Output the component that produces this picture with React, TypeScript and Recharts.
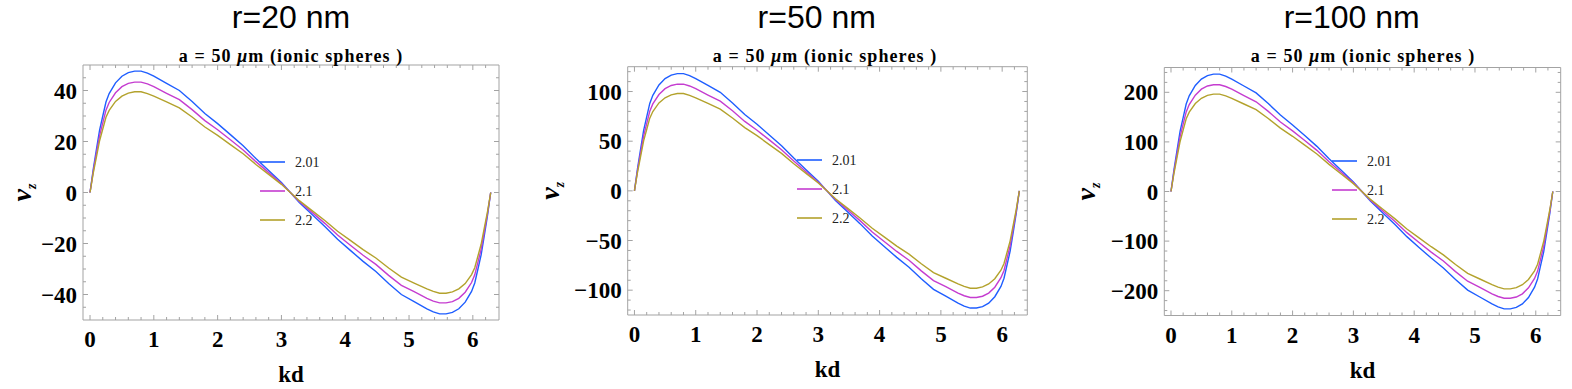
import React from 'react';
import { LineChart, Line, XAxis, YAxis, ReferenceArea, Legend } from 'recharts';

// ---------- data ----------
const KD = [0, 0.05, 0.1, 0.15, 0.2, 0.25, 0.3, 0.4, 0.5, 0.6, 0.7, 0.8, 0.9, 1.0, 1.2, 1.4, 1.6, 1.8, 2.0, 2.2, 2.4, 2.6, 2.8, 3.0, 3.14,
  3.28, 3.48, 3.68, 3.88, 4.08, 4.28, 4.48, 4.68, 4.88, 5.08, 5.28, 5.38, 5.48, 5.58, 5.68, 5.78, 5.88, 5.98, 6.03, 6.08, 6.13, 6.18, 6.23, 6.28];

const R20_S201 = [0, 9, 16.8, 24.5, 30, 35.5, 38.8, 43, 45.6, 47, 47.6, 47.6, 46.8, 45.6, 42.8, 40, 35.7, 31, 27, 22.7, 18.3, 13.3, 8.6, 3.9, 0,
  -3.9, -8.6, -13.3, -18.3, -22.7, -27, -31, -35.7, -40, -42.8, -45.6, -46.8, -47.6, -47.6, -47, -45.6, -43, -38.8, -35.5, -30, -24.5, -16.8, -9, 0];
const R20_S21 = [0, 8.2, 15.3, 22.3, 27.3, 32.3, 35.3, 39.1, 41.5, 42.8, 43.3, 43.3, 42.6, 41.5, 38.9, 36.4, 32.5, 28.2, 24.6, 20.7, 16.7, 12.1, 7.8, 3.5, 0,
  -3.5, -7.8, -12.1, -16.7, -20.7, -24.6, -28.2, -32.5, -36.4, -38.9, -41.5, -42.6, -43.3, -43.3, -42.8, -41.5, -39.1, -35.3, -32.3, -27.3, -22.3, -15.3, -8.2, 0];
const R20_S22 = [0, 7.5, 13.9, 20.3, 24.9, 29.5, 32.2, 35.7, 37.8, 39, 39.5, 39.5, 38.8, 37.8, 35.5, 33.2, 29.6, 25.7, 22.4, 18.8, 15.2, 11, 7.1, 3.2, 0,
  -3.2, -7.1, -11, -15.2, -18.8, -22.4, -25.7, -29.6, -33.2, -35.5, -37.8, -38.8, -39.5, -39.5, -39, -37.8, -35.7, -32.2, -29.5, -24.9, -20.3, -13.9, -7.5, 0];

const R50_S201 = [0, 22.3, 41.7, 60.8, 74.4, 88, 96.2, 106.6, 113.1, 116.6, 118, 118, 116.1, 113.1, 106.1, 99.2, 88.5, 76.9, 67, 56.3, 45.4, 33, 21.3, 9.7, 0,
  -9.7, -21.3, -33, -45.4, -56.3, -67, -76.9, -88.5, -99.2, -106.1, -113.1, -116.1, -118, -118, -116.6, -113.1, -106.6, -96.2, -88, -74.4, -60.8, -41.7, -22.3, 0];
const R50_S21 = [0, 20.3, 37.9, 55.3, 67.7, 80.1, 87.5, 97, 102.9, 106.1, 107.4, 107.4, 105.6, 102.9, 96.5, 90.3, 80.6, 69.9, 61, 51.3, 41.4, 30, 19.3, 8.7, 0,
  -8.7, -19.3, -30, -41.4, -51.3, -61, -69.9, -80.6, -90.3, -96.5, -102.9, -105.6, -107.4, -107.4, -106.1, -102.9, -97, -87.5, -80.1, -67.7, -55.3, -37.9, -20.3, 0];
const R50_S22 = [0, 18.6, 34.5, 50.3, 61.8, 73.2, 79.9, 88.5, 93.7, 96.7, 98, 98, 96.2, 93.7, 88, 82.3, 73.4, 63.7, 55.6, 46.6, 37.7, 27.3, 17.6, 7.9, 0,
  -7.9, -17.6, -27.3, -37.7, -46.6, -55.6, -63.7, -73.4, -82.3, -88, -93.7, -96.2, -98, -98, -96.7, -93.7, -88.5, -79.9, -73.2, -61.8, -50.3, -34.5, -18.6, 0];

const R100_S201 = [0, 44.7, 83.5, 121.8, 149.1, 176.4, 192.8, 213.7, 226.6, 233.6, 236.6, 236.6, 232.6, 226.6, 212.7, 198.8, 177.4, 154.1, 134.2, 112.8, 91, 66.1, 42.7, 19.4, 0,
  -19.4, -42.7, -66.1, -91, -112.8, -134.2, -154.1, -177.4, -198.8, -212.7, -226.6, -232.6, -236.6, -236.6, -233.6, -226.6, -213.7, -192.8, -176.4, -149.1, -121.8, -83.5, -44.7, 0];
const R100_S21 = [0, 40.8, 76, 110.8, 135.7, 160.5, 175.4, 194.3, 206.3, 212.7, 215.2, 215.2, 211.7, 206.3, 193.3, 180.9, 161.5, 140.2, 122.3, 102.9, 83, 60.1, 38.8, 17.4, 0,
  -17.4, -38.8, -60.1, -83, -102.9, -122.3, -140.2, -161.5, -180.9, -193.3, -206.3, -211.7, -215.2, -215.2, -212.7, -206.3, -194.3, -175.4, -160.5, -135.7, -110.8, -76, -40.8, 0];
const R100_S22 = [0, 37.3, 69.1, 100.9, 123.8, 146.6, 160, 177.4, 187.9, 193.8, 196.3, 196.3, 192.8, 187.9, 176.4, 165, 147.1, 127.7, 111.3, 93.4, 75.5, 54.7, 35.3, 15.9, 0,
  -15.9, -35.3, -54.7, -75.5, -93.4, -111.3, -127.7, -147.1, -165, -176.4, -187.9, -192.8, -196.3, -196.3, -193.8, -187.9, -177.4, -160, -146.6, -123.8, -100.9, -69.1, -37.3, 0];

const SERIES_NAMES = ['2.01', '2.1', '2.2'];
const TITLES = ['r=20 nm', 'r=50 nm', 'r=100 nm'];
const SUBTITLE_PRE = 'a = 50 ';
const SUBTITLE_MU = 'μ';
const SUBTITLE_POST = 'm (ionic spheres )';
const X_LABEL = 'kd';

const X_TICKS = [0, 0.2, 0.4, 0.6, 0.8, 1, 1.2, 1.4, 1.6, 1.8, 2, 2.2, 2.4, 2.6, 2.8, 3, 3.2, 3.4, 3.6, 3.8, 4, 4.2, 4.4, 4.6, 4.8, 5, 5.2, 5.4, 5.6, 5.8, 6, 6.2];
const Y_TICKS_20 = [-45, -40, -35, -30, -25, -20, -15, -10, -5, 0, 5, 10, 15, 20, 25, 30, 35, 40, 45];
const Y_TICKS_50 = [-120, -110, -100, -90, -80, -70, -60, -50, -40, -30, -20, -10, 0, 10, 20, 30, 40, 50, 60, 70, 80, 90, 100, 110, 120];
const Y_TICKS_100 = [-240, -220, -200, -180, -160, -140, -120, -100, -80, -60, -40, -20, 0, 20, 40, 60, 80, 100, 120, 140, 160, 180, 200, 220, 240];

// ---------- styles ----------
const COLORS = ['#1f5eff', '#c53dd0', '#b3a22c'];
const FRAME = '#a3a3a3';
const SERIF = '"Liberation Serif", "DejaVu Serif", serif';
const SANS = '"Liberation Sans", Arial, sans-serif';
const X_DOMAIN: [number, number] = [-0.11, 6.41];

const buildRows = (a: number[], b: number[], c: number[]) =>
  KD.map((k, i) => ({ kd: k, s0: a[i], s1: b[i], s2: c[i] }));

const PANELS = [
  { left: 0, width: 520, top: 65, bottom: 69, yW: 83, right: 21, yDomain: [-50, 50] as [number, number], yTicks: Y_TICKS_20, yMajor: 20,
    rows: buildRows(R20_S201, R20_S21, R20_S22), title: TITLES[0], titleX: 291, subX: 291, legL: 260, legT: 152, yLabX: 31 },
  { left: 520, width: 525, top: 66.7, bottom: 74, yW: 107.7, right: 17.7, yDomain: [-125, 125] as [number, number], yTicks: Y_TICKS_50, yMajor: 50,
    rows: buildRows(R50_S201, R50_S21, R50_S22), title: TITLES[1], titleX: 296.7, subX: 305, legL: 276.7, legT: 150, yLabX: 39 },
  { left: 1045, width: 527, top: 67.5, bottom: 73.5, yW: 119.3, right: 11.3, yDomain: [-250, 250] as [number, number], yTicks: Y_TICKS_100, yMajor: 100,
    rows: buildRows(R100_S201, R100_S21, R100_S22), title: TITLES[2], titleX: 306.7, subX: 318, legL: 286.7, legT: 150.7, yLabX: 50 },
];

const isMult = (v: number, m: number) => Math.abs(v / m - Math.round(v / m)) < 1e-6;
const fmt = (v: number) => (v < 0 ? '\u2212' + Math.abs(v) : String(v));

const makeYTick = (plotW: number, major: number) => (props: any) => {
  const { x, y, payload } = props;
  const v = payload.value;
  const mj = isMult(v, major);
  const len = mj ? 5 : 3;
  return (
    <g>
      <line x1={x} y1={y} x2={x + len} y2={y} stroke={FRAME} strokeWidth={1} />
      <line x1={x + plotW - len} y1={y} x2={x + plotW} y2={y} stroke={FRAME} strokeWidth={1} />
      {mj && (
        <text x={x - 6} y={y} dy="0.35em" textAnchor="end" fontFamily={SERIF} fontWeight="bold" fontSize={23} fill="#000">
          {fmt(v)}
        </text>
      )}
    </g>
  );
};

const makeXTick = (plotH: number) => (props: any) => {
  const { x, y, payload } = props;
  const v = payload.value;
  const mj = isMult(v, 1);
  const len = mj ? 5 : 3;
  return (
    <g>
      <line x1={x} y1={y} x2={x} y2={y - len} stroke={FRAME} strokeWidth={1} />
      <line x1={x} y1={y - plotH} x2={x} y2={y - plotH + len} stroke={FRAME} strokeWidth={1} />
      {mj && (
        <text x={x} y={y + 27} textAnchor="middle" fontFamily={SERIF} fontWeight="bold" fontSize={23} fill="#000">
          {fmt(v)}
        </text>
      )}
    </g>
  );
};

const XTitle = (props: any) => {
  const vb = props.viewBox || {};
  return (
    <text x={vb.x + vb.width / 2} y={vb.y + 62} textAnchor="middle" fontFamily={SERIF} fontWeight="bold" fontSize={23} fill="#000">
      {X_LABEL}
    </text>
  );
};

const YTitle = (props: any) => {
  const vb = props.viewBox || {};
  const cx = props.labX;
  const cy = vb.y + vb.height / 2;
  return (
    <text transform={`translate(${cx},${cy}) rotate(-90)`} textAnchor="middle" fontFamily={SERIF} fontWeight="bold" fill="#000">
      <tspan fontStyle="italic" fontSize={28}>v</tspan>
      <tspan fontStyle="italic" fontSize={14} dy={5}>z</tspan>
    </text>
  );
};

const LegendBox = () => (
  <svg width={80} height={80} style={{ display: 'block' }}>
    {SERIES_NAMES.map((n, i) => (
      <g key={n}>
        <line x1={0} x2={25} y1={10 + 29 * i} y2={10 + 29 * i} stroke={COLORS[i]} strokeWidth={1.6} />
        <text x={35} y={10 + 29 * i} dy="0.35em" fontFamily={SERIF} fontSize={14} fill="#222">{n}</text>
      </g>
    ))}
  </svg>
);

const Panel = ({ p }: { p: typeof PANELS[number] }) => {
  const plotW = p.width - p.yW - p.right;
  const plotH = 389 - p.top - p.bottom;
  return (
    <div style={{ position: 'absolute', left: p.left, top: 0, width: p.width, height: 389 }}>
      <LineChart width={p.width} height={389} data={p.rows} margin={{ top: p.top, right: p.right, bottom: 0, left: 0 }}>
        <XAxis type="number" dataKey="kd" domain={X_DOMAIN} allowDataOverflow ticks={X_TICKS} interval={0}
          tickSize={0} tickMargin={0} axisLine={false} tickLine={false} height={p.bottom}
          tick={makeXTick(plotH)} label={<XTitle />} />
        <YAxis type="number" domain={p.yDomain} allowDataOverflow ticks={p.yTicks} interval={0}
          tickSize={0} tickMargin={0} axisLine={false} tickLine={false} width={p.yW}
          tick={makeYTick(plotW, p.yMajor)} label={<YTitle labX={p.yLabX} />} />
        <ReferenceArea x1={X_DOMAIN[0]} x2={X_DOMAIN[1]} y1={p.yDomain[0]} y2={p.yDomain[1]} fill="none" fillOpacity={0} stroke={FRAME} strokeWidth={1} />
        {['s0', 's1', 's2'].map((k, i) => (
          <Line key={k} dataKey={k} name={SERIES_NAMES[i]} type="linear" stroke={COLORS[i]} strokeWidth={1.4} dot={false} isAnimationActive={false} />
        ))}
        <Legend layout="horizontal" verticalAlign="middle" align="center" content={() => <LegendBox />}
          wrapperStyle={{ position: 'absolute', left: p.legL, top: p.legT, width: 80, height: 80, margin: 0 }} />
      </LineChart>
      <svg width={p.width} height={389} style={{ position: 'absolute', left: 0, top: 0, pointerEvents: 'none' }}>
        <text x={p.titleX} y={27.5} textAnchor="middle" fontFamily={SANS} fontSize={32} fill="#000">{p.title}</text>
        <text x={p.subX} y={61.5} textAnchor="middle" fontFamily={SERIF} fontWeight="bold" fontSize={18} letterSpacing={1.1} fill="#000">
          {SUBTITLE_PRE}<tspan fontStyle="italic">{SUBTITLE_MU}</tspan>{SUBTITLE_POST}
        </text>
      </svg>
    </div>
  );
};

export default function App() {
  return (
    <div style={{ position: 'absolute', left: 0, top: 0, width: 1572, height: 389, background: '#fff', overflow: 'hidden' }}>
      {PANELS.map((p, i) => <Panel key={i} p={p} />)}
    </div>
  );
}
